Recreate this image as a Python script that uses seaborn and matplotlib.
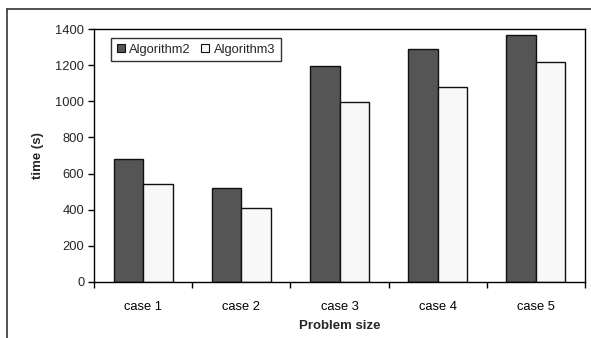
import matplotlib
matplotlib.use("Agg")
import matplotlib.pyplot as plt
from matplotlib.lines import Line2D
from matplotlib.ticker import FixedLocator, MultipleLocator
import seaborn as sns
import pandas as pd

cases = ["case 1", "case 2", "case 3", "case 4", "case 5"]
algorithm2 = [680, 520, 1195, 1290, 1365]
algorithm3 = [540, 410, 995, 1080, 1220]
series = ["Algorithm2", "Algorithm3"]

df = pd.DataFrame({
    "case": cases * 2,
    "time": algorithm2 + algorithm3,
    "alg": [series[0]] * len(cases) + [series[1]] * len(cases),
})

sns.set_theme(style="white")
plt.rcParams["font.family"] = ["Liberation Sans", "DejaVu Sans"]

fig = plt.figure(figsize=(5.91, 3.38), dpi=100)
ax = fig.add_axes([94 / 591, 1 - 282 / 338, (585 - 94) / 591, (282 - 29) / 338])

colors = {"Algorithm2": "#555555", "Algorithm3": "#F8F8F8"}
sns.barplot(data=df, x="case", y="time", hue="alg", palette=colors,
            width=0.6, gap=0, ax=ax, legend=False, errorbar=None,
            saturation=1)
for p in ax.patches:
    p.set_edgecolor("#111111")
    p.set_linewidth(1.0)

ax.set_xlim(-0.5, len(cases) - 0.5)
ax.set_ylim(0, 1400)
ax.yaxis.set_major_locator(MultipleLocator(200))
ax.xaxis.set_minor_locator(FixedLocator([i - 0.5 for i in range(len(cases) + 1)]))
ax.tick_params(axis="x", which="major", length=0, pad=14, labelsize=9.3, colors="black")
ax.tick_params(axis="x", which="minor", length=4, width=1, color="black", direction="out", bottom=True)
ax.tick_params(axis="y", which="major", length=4, width=1, color="black", direction="out",
               left=True, labelsize=9.3, pad=3)
for s in ax.spines.values():
    s.set_color("black")
    s.set_linewidth(1.0)
    s.set_visible(True)

ax.set_xlabel("Problem size", fontweight="bold", fontsize=9.5, labelpad=5)
ax.set_ylabel("time (s)", fontweight="bold", fontsize=9.5, labelpad=8)

handles = [plt.Rectangle((0, 0), 1, 1, facecolor=colors[s], edgecolor="#111111", linewidth=0.8)
           for s in series]
leg = ax.legend(handles, series, ncol=2, loc="upper left", bbox_to_anchor=(0.035, 0.965),
                frameon=True, fancybox=False, edgecolor="black", fontsize=9.3,
                handlelength=0.6, handleheight=0.6, handletextpad=0.35, columnspacing=0.8,
                borderpad=0.45, borderaxespad=0)
leg.get_frame().set_linewidth(1.0)

# outer chart frame
fig.add_artist(Line2D([7 / 591, 1], [1 - 9 / 338, 1 - 9 / 338], color="#333333", lw=1.2,
                      transform=fig.transFigure))
fig.add_artist(Line2D([7 / 591, 7 / 591], [0, 1 - 9 / 338], color="#333333", lw=1.2,
                      transform=fig.transFigure))

fig.savefig("out.png", dpi=100)
